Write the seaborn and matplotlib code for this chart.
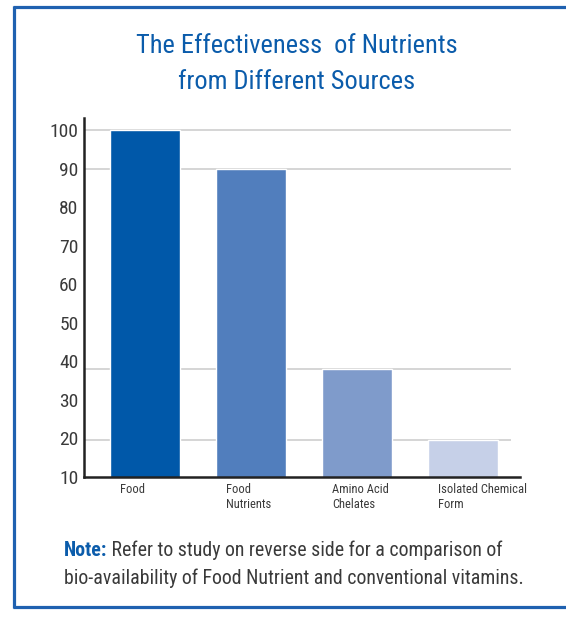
import matplotlib
matplotlib.use("Agg")
import matplotlib.pyplot as plt
import matplotlib.transforms as mtransforms
from matplotlib.lines import Line2D
import seaborn as sns

# Data
categories = ["Food", "Food\nNutrients", "Amino Acid\nChelates", "Isolated Chemical\nForm"]
effectiveness = [100, 90, 38, 19.5]
bar_colors = ["#0058a9", "#517ebd", "#7f9bcb", "#c6d0e8"]
y_ticks = [10, 20, 30, 40, 50, 60, 70, 80, 90, 100]

title_text = "The Effectiveness  of Nutrients\nfrom Different Sources"
note_head = "Note:"
note_line1 = " Refer to study on reverse side for a comparison of"
note_line2 = "bio-availability of Food Nutrient and conventional vitamins."

BLUE = "#0b5cab"
GRAY = "#3a3a3a"

sns.set_style("white")
plt.rcParams["font.family"] = ["Roboto Condensed", "Archivo Narrow", "DejaVu Sans"]

W, H = 566, 618
fig = plt.figure(figsize=(W / 100, H / 100), dpi=100)
ax = fig.add_axes([84 / W, (H - 477) / H, (520 - 84) / W, (477 - 118) / H])

sns.barplot(x=categories, y=effectiveness, hue=categories, palette=bar_colors,
            legend=False, width=0.661, saturation=1, ax=ax, zorder=3)

# light rule at the top of each bar, running across the plot
ax.hlines(effectiveness, -0.6, 3.45, colors="#d2d2d2", linewidth=1.3, zorder=1)

ax.set_xlim(-0.58, 3.538)
ax.set_ylim(10, 103.1)
ax.set_yticks(y_ticks)
ax.set_yticklabels([str(t) for t in y_ticks], fontsize=14, color=GRAY)
ax.tick_params(axis="y", length=0, pad=4)
ax.tick_params(axis="x", length=0, pad=4)
ax.set_xlabel("")
ax.set_ylabel("")

shift = mtransforms.ScaledTranslation(-25 / 100, 0, fig.dpi_scale_trans)
for lbl in ax.get_xticklabels():
    lbl.set_horizontalalignment("left")
    lbl.set_multialignment("left")
    lbl.set_fontsize(9)
    lbl.set_color(GRAY)
    lbl.set_linespacing(1.2)
    lbl.set_transform(lbl.get_transform() + shift)

for side in ("top", "right"):
    ax.spines[side].set_visible(False)
for side in ("left", "bottom"):
    ax.spines[side].set_color("#222222")
    ax.spines[side].set_linewidth(1.8)
    ax.spines[side].set_zorder(4)

# title
fig.text(297 / W, 1 - 64 / H, title_text, ha="center", va="center",
         fontsize=19, color=BLUE, linespacing=1.6)

# note below the chart
note = fig.text(64 / W, 1 - 560 / H, note_head, ha="left", va="bottom",
                fontsize=14.3, color=BLUE, fontweight="bold")
ax.annotate(note_line1, xy=(1, 0), xycoords=note, ha="left", va="bottom",
            fontsize=14.3, color=GRAY, annotation_clip=False)
fig.text(64 / W, 1 - 588 / H, note_line2, ha="left", va="bottom",
         fontsize=14.3, color=GRAY)

# frame
frame_kw = dict(color="#1f61b0", linewidth=2.3, transform=fig.transFigure, solid_capstyle="butt")
fig.add_artist(Line2D([14 / W, 14 / W], [1 - 6 / H, 1 - 608 / H], **frame_kw))
fig.add_artist(Line2D([13 / W, 1.0], [1 - 7 / H, 1 - 7 / H], **frame_kw))
fig.add_artist(Line2D([13 / W, 1.0], [1 - 607 / H, 1 - 607 / H], **frame_kw))

fig.savefig("out.png", dpi=100)
